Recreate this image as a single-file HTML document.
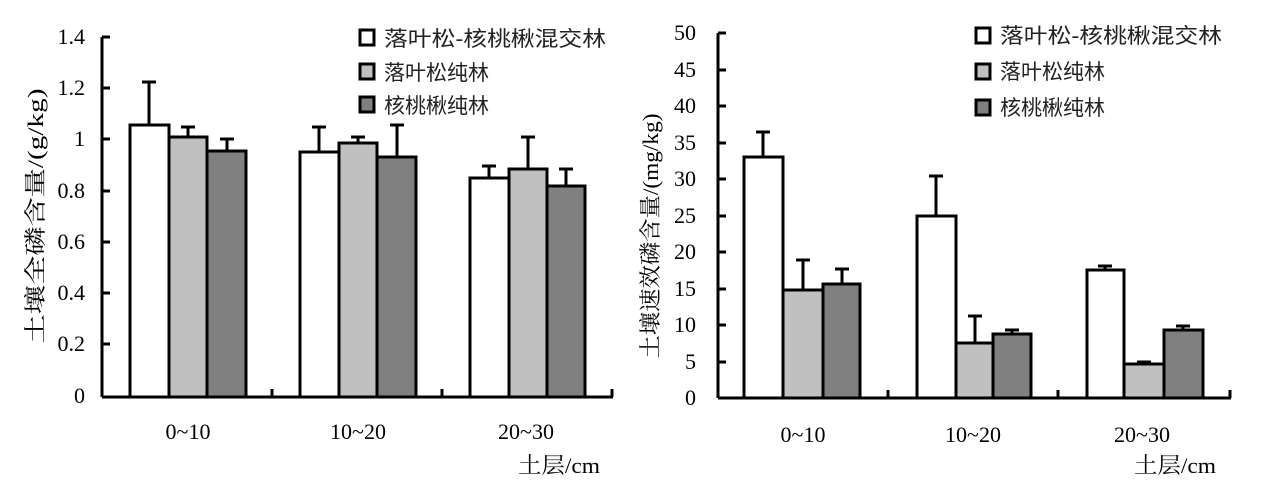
<!DOCTYPE html>
<html><head><meta charset="utf-8"><style>
html,body{margin:0;padding:0;background:#fff;}
svg{display:block;font-family:"Liberation Serif","Noto Serif CJK SC",serif;}
.t{font-size:22px;fill:#000;}
.x{font-size:22px;fill:#000;}
.c{font-family:"Liberation Sans","Noto Sans CJK SC",sans-serif;font-size:21px;fill:#222;}
</style></head><body>
<svg width="1279" height="488" viewBox="0 0 1279 488" xmlns="http://www.w3.org/2000/svg">
<g stroke="#000" stroke-width="3">
<line x1="102" y1="37" x2="102" y2="397"/>
<line x1="102" y1="397" x2="613" y2="397"/>
<line x1="102" y1="37" x2="110" y2="37"/>
<line x1="102" y1="88" x2="110" y2="88"/>
<line x1="102" y1="139" x2="110" y2="139"/>
<line x1="102" y1="191" x2="110" y2="191"/>
<line x1="102" y1="242" x2="110" y2="242"/>
<line x1="102" y1="293" x2="110" y2="293"/>
<line x1="102" y1="344" x2="110" y2="344"/>
<line x1="272" y1="397" x2="272" y2="389"/>
<line x1="442" y1="397" x2="442" y2="389"/>
<line x1="612" y1="397" x2="612" y2="389"/>
<line x1="149" y1="125" x2="149" y2="82"/><line x1="142" y1="82" x2="156" y2="82"/>
<line x1="188" y1="137" x2="188" y2="127"/><line x1="181" y1="127" x2="195" y2="127"/>
<line x1="227" y1="151" x2="227" y2="139"/><line x1="220" y1="139" x2="234" y2="139"/>
<line x1="319" y1="152" x2="319" y2="127"/><line x1="312" y1="127" x2="326" y2="127"/>
<line x1="358" y1="143" x2="358" y2="137"/><line x1="351" y1="137" x2="365" y2="137"/>
<line x1="397" y1="157" x2="397" y2="125"/><line x1="390" y1="125" x2="404" y2="125"/>
<line x1="489" y1="178" x2="489" y2="166"/><line x1="482" y1="166" x2="496" y2="166"/>
<line x1="528" y1="169" x2="528" y2="137"/><line x1="521" y1="137" x2="535" y2="137"/>
<line x1="566" y1="186" x2="566" y2="169"/><line x1="559" y1="169" x2="573" y2="169"/>
<rect x="130" y="125" width="39" height="272" fill="#fff"/>
<rect x="169" y="137" width="38" height="260" fill="#c0c0c0"/>
<rect x="207" y="151" width="39" height="246" fill="#808080"/>
<rect x="300" y="152" width="39" height="245" fill="#fff"/>
<rect x="339" y="143" width="38" height="254" fill="#c0c0c0"/>
<rect x="377" y="157" width="39" height="240" fill="#808080"/>
<rect x="470" y="178" width="39" height="219" fill="#fff"/>
<rect x="509" y="169" width="38" height="228" fill="#c0c0c0"/>
<rect x="547" y="186" width="38" height="211" fill="#808080"/>
<rect x="360" y="30" width="14" height="15" fill="#fff"/>
<rect x="360" y="64" width="14" height="15" fill="#c0c0c0"/>
<rect x="360" y="97" width="14" height="15" fill="#808080"/>
</g>
<g class="t" text-anchor="end">
<text x="85" y="44">1.4</text><text x="85" y="95">1.2</text><text x="85" y="146">1</text>
<text x="85" y="198">0.8</text><text x="85" y="249">0.6</text><text x="85" y="300">0.4</text>
<text x="85" y="351">0.2</text><text x="85" y="403">0</text>
</g>
<g class="x" text-anchor="middle">
<text x="188" y="439">0~10</text><text x="358" y="439">10~20</text><text x="526" y="439">20~30</text>
</g>
<text class="x" x="518" y="473" textLength="82" lengthAdjust="spacingAndGlyphs">土层/cm</text>
<g class="c"><text x="384" y="46" textLength="222" lengthAdjust="spacingAndGlyphs">落叶松-核桃楸混交林</text><text x="384" y="80">落叶松纯林</text><text x="384" y="113">核桃楸纯林</text></g>
<text class="x" transform="translate(43,216) rotate(-90)" text-anchor="middle" fill="#333" textLength="255" lengthAdjust="spacingAndGlyphs">土壤全磷含量/(g/kg)</text>

<g stroke="#000" stroke-width="3">
<line x1="718" y1="33" x2="718" y2="398"/>
<line x1="718" y1="398" x2="1231" y2="398"/>
<line x1="718" y1="33" x2="726" y2="33"/>
<line x1="718" y1="70" x2="726" y2="70"/>
<line x1="718" y1="106" x2="726" y2="106"/>
<line x1="718" y1="143" x2="726" y2="143"/>
<line x1="718" y1="179" x2="726" y2="179"/>
<line x1="718" y1="216" x2="726" y2="216"/>
<line x1="718" y1="252" x2="726" y2="252"/>
<line x1="718" y1="289" x2="726" y2="289"/>
<line x1="718" y1="325" x2="726" y2="325"/>
<line x1="718" y1="362" x2="726" y2="362"/>
<line x1="888" y1="398" x2="888" y2="390"/>
<line x1="1058" y1="398" x2="1058" y2="390"/>
<line x1="1230" y1="398" x2="1230" y2="390"/>
<line x1="763" y1="157" x2="763" y2="132"/><line x1="756" y1="132" x2="770" y2="132"/>
<line x1="803" y1="290" x2="803" y2="260"/><line x1="796" y1="260" x2="810" y2="260"/>
<line x1="842" y1="284" x2="842" y2="269"/><line x1="835" y1="269" x2="849" y2="269"/>
<line x1="936" y1="216" x2="936" y2="176"/><line x1="929" y1="176" x2="943" y2="176"/>
<line x1="975" y1="343" x2="975" y2="316"/><line x1="968" y1="316" x2="982" y2="316"/>
<line x1="1012" y1="334" x2="1012" y2="330"/><line x1="1005" y1="330" x2="1019" y2="330"/>
<line x1="1105" y1="270" x2="1105" y2="266"/><line x1="1098" y1="266" x2="1112" y2="266"/>
<line x1="1144" y1="364" x2="1144" y2="362"/><line x1="1137" y1="362" x2="1151" y2="362"/>
<line x1="1183" y1="330" x2="1183" y2="326"/><line x1="1176" y1="326" x2="1190" y2="326"/>
<rect x="744" y="157" width="39" height="241" fill="#fff"/>
<rect x="783" y="290" width="40" height="108" fill="#c0c0c0"/>
<rect x="823" y="284" width="37" height="114" fill="#808080"/>
<rect x="917" y="216" width="39" height="182" fill="#fff"/>
<rect x="956" y="343" width="37" height="55" fill="#c0c0c0"/>
<rect x="993" y="334" width="38" height="64" fill="#808080"/>
<rect x="1087" y="270" width="37" height="128" fill="#fff"/>
<rect x="1124" y="364" width="40" height="34" fill="#c0c0c0"/>
<rect x="1164" y="330" width="39" height="68" fill="#808080"/>
<rect x="976" y="28" width="14" height="15" fill="#fff"/>
<rect x="976" y="64" width="14" height="15" fill="#c0c0c0"/>
<rect x="976" y="100" width="14" height="15" fill="#808080"/>
</g>
<g class="t" text-anchor="end">
<text x="696" y="40">50</text><text x="696" y="77">45</text><text x="696" y="113">40</text>
<text x="696" y="150">35</text><text x="696" y="186">30</text><text x="696" y="223">25</text>
<text x="696" y="259">20</text><text x="696" y="296">15</text><text x="696" y="332">10</text>
<text x="696" y="369">5</text><text x="696" y="405">0</text>
</g>
<g class="x" text-anchor="middle">
<text x="803" y="442">0~10</text><text x="973" y="442">10~20</text><text x="1142" y="442">20~30</text>
</g>
<text class="x" x="1134" y="473" textLength="82" lengthAdjust="spacingAndGlyphs">土层/cm</text>
<g class="c"><text x="1000" y="43" textLength="222" lengthAdjust="spacingAndGlyphs">落叶松-核桃楸混交林</text><text x="1000" y="79">落叶松纯林</text><text x="1000" y="115">核桃楸纯林</text></g>
<text class="x" transform="translate(658,236) rotate(-90)" text-anchor="middle" fill="#333" textLength="245" lengthAdjust="spacingAndGlyphs">土壤速效磷含量/(mg/kg)</text>
</svg>
</body></html>
